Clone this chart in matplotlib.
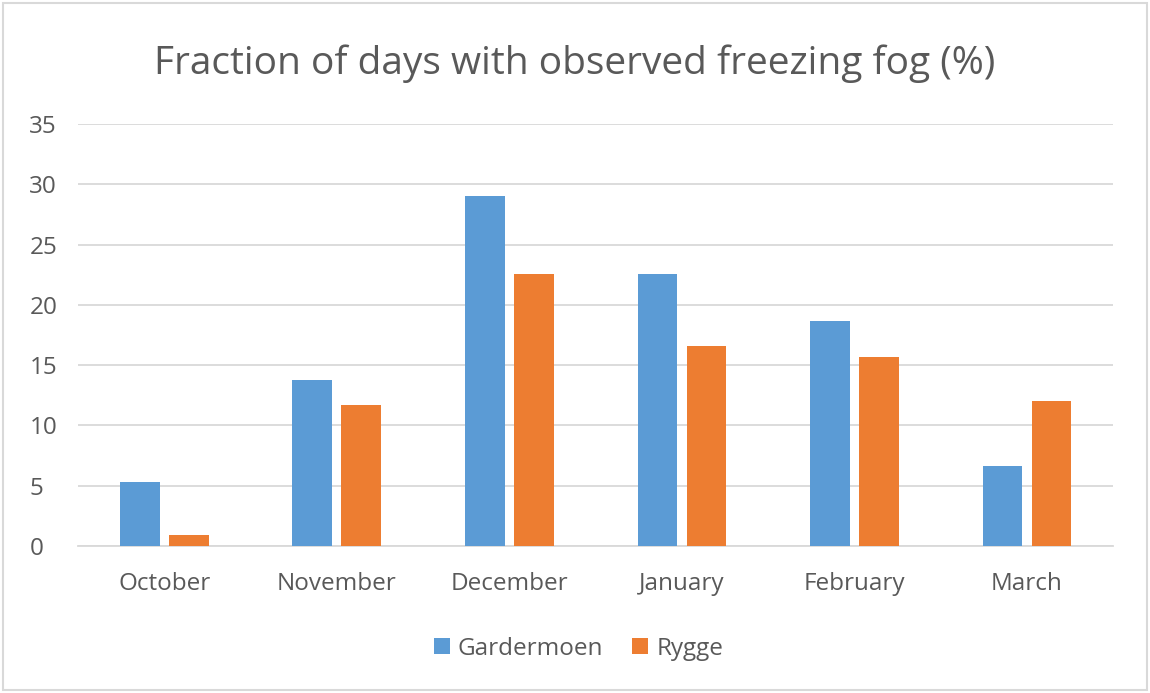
import numpy as np
import matplotlib.pyplot as plt
from matplotlib.patches import Rectangle

months = ['October', 'November', 'December', 'January', 'February', 'March']
gardermoen = [5.3, 13.8, 29.0, 22.6, 18.7, 6.6]
rygge = [0.9, 11.7, 22.6, 16.6, 15.7, 12.0]

blue = '#5B9BD5'
orange = '#ED7D31'
txt = '#595959'
grid = '#D9D9D9'

plt.rcParams['font.family'] = ['Open Sans', 'DejaVu Sans']

fig = plt.figure(figsize=(11.5, 6.93), dpi=100)
ax = fig.add_axes([0.0678, 0.2121, 0.9002, 0.6089])

x = np.arange(len(months))
w = 0.23
off = 0.142
ax.bar(x - off, gardermoen, w, color=blue, label='Gardermoen', zorder=3)
ax.bar(x + off, rygge, w, color=orange, label='Rygge', zorder=3)

ax.set_xlim(-0.5, len(months) - 0.5)
ax.set_ylim(0, 35)
ax.set_yticks(range(0, 36, 5))
ax.set_xticks(x)
ax.set_xticklabels(months)
ax.yaxis.grid(True, color=grid, linewidth=1.3, zorder=0)
ax.tick_params(axis='both', length=0, labelsize=17.5, labelcolor=txt)
ax.tick_params(axis='x', pad=19)
ax.tick_params(axis='y', pad=35)
for lab in ax.get_yticklabels():
    lab.set_horizontalalignment('left')
for s in ['top', 'right', 'left']:
    ax.spines[s].set_visible(False)
ax.spines['bottom'].set_color(grid)
ax.spines['bottom'].set_linewidth(1.3)

fig.text(0.5, 0.908, 'Fraction of days with observed freezing fog (%)',
         ha='center', va='center', fontsize=28, color=txt)

fig.legend(loc='center', bbox_to_anchor=(0.503, 0.064), ncol=2, frameon=False,
           fontsize=17.5, labelcolor=txt, handlelength=0.66, handleheight=0.66,
           handletextpad=0.33, columnspacing=1.2)

fig.patches.append(Rectangle((0.003, 0.004), 0.994, 0.992, transform=fig.transFigure,
                             fill=False, edgecolor=grid, linewidth=1.5))

fig.savefig('out.png', dpi=100)
